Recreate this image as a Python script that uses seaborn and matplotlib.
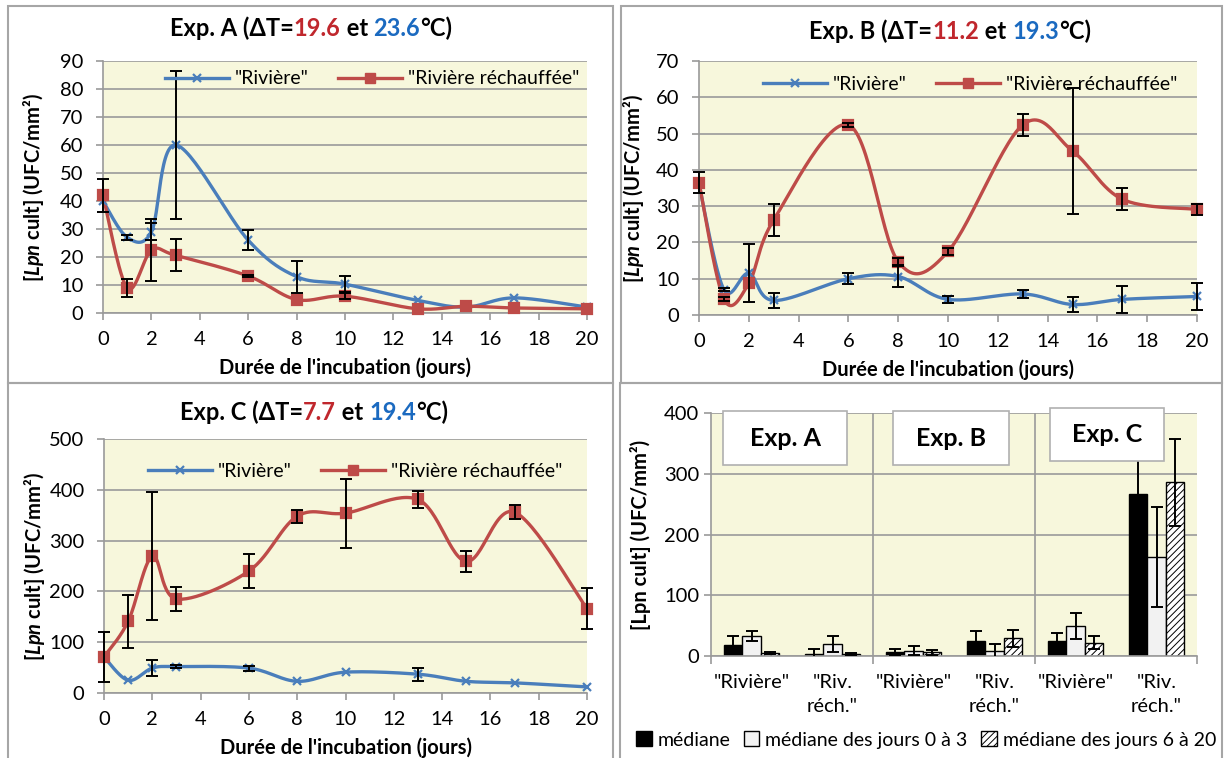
import numpy as np
import pandas as pd
import matplotlib
matplotlib.use('Agg')
import matplotlib.pyplot as plt
import seaborn as sns
from matplotlib.offsetbox import TextArea, HPacker, AnnotationBbox
from matplotlib.patches import Rectangle, Patch
from matplotlib.lines import Line2D

plt.rcParams['font.family'] = ['Lato', 'DejaVu Sans']
plt.rcParams['mathtext.fontset'] = 'custom'
plt.rcParams['mathtext.it'] = 'Lato:italic:bold'
plt.rcParams['mathtext.rm'] = 'Lato:bold'
plt.rcParams['hatch.linewidth'] = 0.7

# ---- data ----
days = [0, 1, 2, 3, 6, 8, 10, 13, 15, 17, 20]

a_riv = [40, 27, 29, 60, 26, 13, 10.3, 4.5, 2.1, 5.4, 2.1]
a_riv_err = [0, 1, 3, 26.5, 3.6, 5.7, 2.8, 0, 0, 0, 0]
a_rech = [42, 8.9, 22.4, 20.6, 13.2, 4.8, 6, 1.5, 2.4, 1.8, 1.5]
a_rech_err = [6, 3.2, 11, 5.7, 0.5, 0, 1, 0, 0, 0, 0]

b_riv = [36, 7, 11.5, 4, 10, 10.6, 4.3, 5.8, 2.9, 4.3, 5.1]
b_riv_err = [0, 0.5, 8, 2, 1.5, 3, 1, 1.2, 2, 3.7, 3.6]
b_rech = [36.5, 4.4, 8.7, 26.2, 52.4, 14.7, 17.5, 52.4, 45.2, 31.9, 29.1]
b_rech_err = [3, 0.5, 0, 4.4, 0.5, 1, 1, 3, 17.3, 3, 1.5]

c_riv = [71, 25, 49, 52, 49, 23, 41, 37, 23, 20, 12]
c_riv_err = [0, 0, 16, 3, 5, 0, 0, 13, 0, 0, 0]
c_rech = [71, 141, 269, 185, 240, 348, 354, 381, 259, 356, 166]
c_rech_err = [50, 52, 126, 24, 34, 13, 68, 17, 21, 14, 40]

bar_keys = ['A_riv', 'A_rech', 'B_riv', 'B_rech', 'C_riv', 'C_rech']
bar_labels = ['"Rivière"', '"Riv.\nréch."'] * 3
levels = ['médiane', 'médiane des jours 0 à 3', 'médiane des jours 6 à 20']
mediane = [18, 4, 6, 25, 24, 266]
med_0_3 = [33, 20, 9, 8, 49, 163]
med_6_20 = [5, 3, 6, 29, 22, 286]
err_mediane = [15, 8, 5, 16, 14, 60]
err_0_3 = [8, 13, 7, 11, 21, 83]
err_6_20 = [2, 2, 4, 14, 11, 72]

BLUE = '#4a7ebb'
RED = '#be4b48'
TRED = '#c0272d'
TBLUE = '#1b6ac0'
BG = '#f7f7dc'
GRID = '#9a9a9a'
FS = 14.5

fig = plt.figure(figsize=(12.25, 7.58), dpi=100)
W, H = 1225, 758


def fpos(x0, y0, x1, y1):
    return [x0 / W, 1 - y1 / H, (x1 - x0) / W, (y1 - y0) / H]


def smooth(ax, x, y):
    # Excel-like smoothed line (Bezier through points, done in pixel space)
    x0, x1 = ax.get_xlim()
    y0, y1 = ax.get_ylim()
    bb = ax.get_position()
    w, h = bb.width * W, bb.height * H
    p = np.column_stack([(np.array(x) - x0) / (x1 - x0) * w,
                         (np.array(y) - y0) / (y1 - y0) * h])
    n = len(p)
    out = []
    t = np.linspace(0, 1, 30)[:, None]
    for i in range(n - 1):
        pa = p[i - 1] if i > 0 else p[i]
        pb, pc = p[i], p[i + 1]
        pd_ = p[i + 2] if i + 2 < n else p[i + 1]
        c1 = pb + (pc - pa) / 6
        c2 = pc - (pd_ - pb) / 6
        seg = ((1 - t) ** 3 * pb + 3 * (1 - t) ** 2 * t * c1
               + 3 * (1 - t) * t ** 2 * c2 + t ** 3 * pc)
        out.append(seg if i == 0 else seg[1:])
    s = np.vstack(out)
    return s[:, 0] / w * (x1 - x0) + x0, s[:, 1] / h * (y1 - y0) + y0


def line_panel(pos, ymax, ystep, riv, riv_err, rech, rech_err, leg_anchor):
    ax = fig.add_axes(pos)
    ax.set_facecolor(BG)
    ax.set_xlim(0, 20)
    ax.set_ylim(0, ymax)
    ax.set_xticks(range(0, 21, 2))
    ax.set_yticks(np.arange(0, ymax + 1, ystep))
    ax.grid(axis='y', color=GRID, lw=1.2)
    ax.set_axisbelow(True)
    for s in ['top', 'right']:
        ax.spines[s].set_visible(False)
    for s in ['left', 'bottom']:
        ax.spines[s].set_color(GRID)
        ax.spines[s].set_linewidth(1.2)
    ax.tick_params(length=5, color=GRID, width=1.2, labelsize=FS)
    ax.tick_params(axis='y', pad=9)
    ax.tick_params(axis='x', pad=8)

    for vals, errs, col, mk, ms in [(riv, riv_err, BLUE, 'x', 5.5), (rech, rech_err, RED, 's', 6.5)]:
        sx, sy = smooth(ax, days, vals)
        sns.lineplot(x=sx, y=sy, sort=False, estimator=None, color=col, lw=2.4, ax=ax,
                     legend=False, clip_on=False)
        ax.plot(days, vals, ls='none', marker=mk, ms=ms, color=col, mew=1.6, clip_on=False, zorder=4)
        e = np.array(errs)
        m = e > 0
        ax.errorbar(np.array(days)[m], np.array(vals)[m], yerr=e[m], fmt='none', ecolor='black',
                    elinewidth=1.4, capsize=4.5, capthick=1.4, zorder=5, clip_on=False)

    handles = [Line2D([], [], color=BLUE, lw=2.4, marker='x', ms=5.5, mew=1.6),
               Line2D([], [], color=RED, lw=2.4, marker='s', ms=6.5)]
    ax.legend(handles, ['"Rivière"', '"Rivière réchauffée"'], ncol=2, frameon=False, loc='center',
              bbox_to_anchor=leg_anchor, fontsize=14, handlelength=3.3, handletextpad=0.3,
              columnspacing=1.5)
    ax.set_xlabel("Durée de l'incubation (jours)", fontsize=FS, fontweight='bold')
    ax.set_ylabel('[$\\mathit{Lpn}$ cult] (UFC/mm²)', fontsize=FS, fontweight='bold')
    return ax


def rich_title(x, y, parts):
    kids = [TextArea(s, textprops=dict(color=c, fontsize=17, fontweight='bold',
                                       family=['Lato', 'DejaVu Sans'])) for s, c in parts]
    box = HPacker(children=kids, align='baseline', pad=0, sep=0)
    ab = AnnotationBbox(box, (x / W, 1 - y / H), xycoords='figure fraction', frameon=False,
                        box_alignment=(0.5, 0.5))
    fig.add_artist(ab)


# panel frames
for x0, y0, x1, y1 in [(8, 6, 613, 383), (621, 6, 1222, 383), (8, 383, 613, 770), (620, 383, 1222, 770)]:
    fig.add_artist(Rectangle((x0 / W, 1 - y1 / H), (x1 - x0) / W, (y1 - y0) / H,
                             transform=fig.transFigure, fill=False, ec='#a6a6a6', lw=1.5))

axA = line_panel(fpos(103, 61, 587, 313), 90, 10, a_riv, a_riv_err, a_rech, a_rech_err, (0.556, 0.929))
axB = line_panel(fpos(699, 61, 1197, 315), 70, 10, b_riv, b_riv_err, b_rech, b_rech_err, (0.544, 0.909))
axC = line_panel(fpos(104, 439, 587, 693), 500, 100, c_riv, c_riv_err, c_rech, c_rech_err, (0.52, 0.874))
for ax, lx in ((axA, -0.118), (axB, -0.106), (axC, -0.118)):
    ax.xaxis.set_label_coords(0.5, -0.175)
    ax.yaxis.set_label_coords(lx, 0.5)

rich_title(311, 28, [('Exp. A (ΔT=', 'black'), ('19.6', TRED), (' et ', 'black'), ('23.6', TBLUE), ('°C)', 'black')])
rich_title(950, 31, [('Exp. B (ΔT=', 'black'), ('11.2', TRED), (' et ', 'black'), ('19.3', TBLUE), ('°C)', 'black')])
rich_title(314, 412, [('Exp. C (ΔT=', 'black'), ('7.7', TRED), (' et ', 'black'), ('19.4', TBLUE), ('°C)', 'black')])

# ---- bar panel ----
axD = fig.add_axes(fpos(711, 413, 1197, 656))
axD.set_facecolor(BG)
df = pd.DataFrame({
    'key': bar_keys * 3,
    'stat': [levels[0]] * 6 + [levels[1]] * 6 + [levels[2]] * 6,
    'val': mediane + med_0_3 + med_6_20,
})
sns.barplot(data=df, x='key', y='val', hue='stat', order=bar_keys, hue_order=levels,
            palette=['black', '#f2f2f2', 'white'], width=0.667, edgecolor='black', linewidth=1,
            saturation=1, ax=axD, legend=False)
for cont, vals, errs, hatch in zip(axD.containers, [mediane, med_0_3, med_6_20],
                                   [err_mediane, err_0_3, err_6_20], [None, None, '/////']):
    xs = [p.get_x() + p.get_width() / 2 for p in cont.patches]
    if hatch:
        for p in cont.patches:
            p.set_hatch(hatch)
    axD.errorbar(xs, vals, yerr=errs, fmt='none', ecolor='black', elinewidth=1.4, capsize=4.5,
                 capthick=1.4, zorder=5)
axD.set_xlim(-0.5, 5.5)
axD.set_ylim(0, 400)
axD.set_yticks(range(0, 401, 100))
axD.grid(axis='y', color=GRID, lw=1.2)
for xv in (1.5, 3.5):
    axD.axvline(xv, color=GRID, lw=1.2, zorder=0.5)
axD.set_axisbelow(True)
for s in ['top', 'right']:
    axD.spines[s].set_visible(False)
for s in ['left', 'bottom']:
    axD.spines[s].set_color(GRID)
    axD.spines[s].set_linewidth(1.2)
axD.set_xticks(range(6))
axD.set_xticklabels(bar_labels, fontsize=FS, linespacing=1.5)
axD.set_xticks([-0.5, 1.5, 3.5, 5.5], minor=True)
axD.tick_params(axis='x', which='major', length=0, pad=13)
axD.tick_params(axis='x', which='minor', length=6, color=GRID, width=1.2)
axD.tick_params(axis='y', length=5, color=GRID, width=1.2, labelsize=FS)
axD.set_xlabel('')
axD.set_ylabel('[Lpn cult] (UFC/mm²)', fontsize=FS, fontweight='bold')
axD.yaxis.set_label_coords(-0.123, 0.5)

for (x0, x1, y0, y1), name in zip([(-0.35, 1.18, 314, 403), (1.75, 3.18, 314, 403), (3.69, 5.09, 321, 408)],
                                  ['Exp. A', 'Exp. B', 'Exp. C']):
    axD.add_patch(Rectangle((x0, y0), x1 - x0, y1 - y0, fc='white', ec='#b0b0b0', lw=1.2,
                            zorder=6, clip_on=False))
    axD.text((x0 + x1) / 2, (y0 + y1) / 2, name, ha='center', va='center', fontsize=18,
             fontweight='bold', zorder=7)

leg_h = [Patch(fc='black', ec='black'), Patch(fc='#f2f2f2', ec='black'),
         Patch(fc='white', ec='black', hatch='/////')]
fig.legend(leg_h, levels, loc='center', bbox_to_anchor=(926 / W, 1 - 740 / H), ncol=3, frameon=False,
           fontsize=14, handlelength=0.8, handleheight=0.8, handletextpad=0.3, columnspacing=0.7)

fig.savefig('out.png', dpi=100)
